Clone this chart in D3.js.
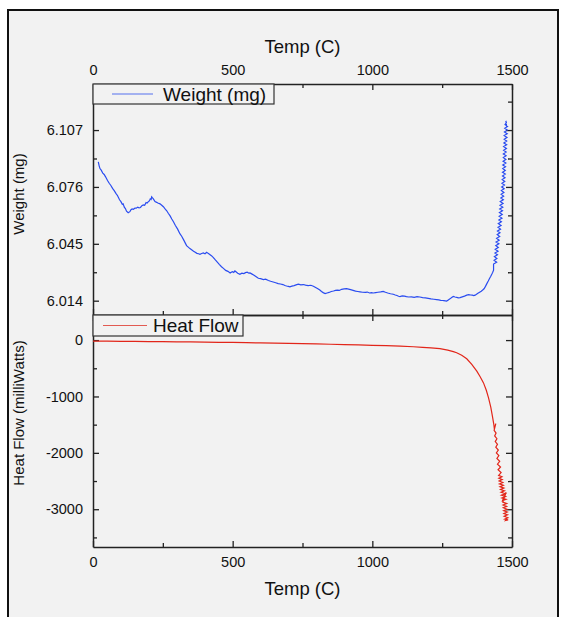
<!DOCTYPE html>
<html>
<head>
<meta charset="utf-8">
<script src="https://d3js.org/d3.v7.min.js"></script>
<style>
  body { margin: 0; background: white; }
  text { font-family: "Liberation Sans", Arial, sans-serif; fill: #111; }
</style>
</head>
<body>
<div id="container"></div>
<script>
let w = 565;
let h = 617;

// temperature axis ticks
let tempTicks = [0, 500, 1000, 1500];
let tempMinor = [250, 750, 1250];

// weight axis ticks
let weightTicks = [6.014, 6.045, 6.076, 6.107];
let weightMinor = [6.0295, 6.0605, 6.0915, 6.1225];

// heat flow axis ticks
let heatTicks = [0, -1000, -2000, -3000];
let heatMinor = [-500, -1500, -2500, -3500];

// weight curve, [temp, weight]
let weightData = [
  [19, 6.0897], [22, 6.0875], [25, 6.0860], [30, 6.0850], [35, 6.0835], [40, 6.0828], [45, 6.0815],
  [52, 6.0795], [58, 6.0780], [64, 6.0768], [70, 6.0752], [76, 6.0740], [82, 6.0725], [88, 6.0712],
  [95, 6.0690], [100, 6.0680], [105, 6.0665], [108, 6.0668], [112, 6.0650], [116, 6.0642],
  [120, 6.0628], [126, 6.0619], [132, 6.0625], [136, 6.0636], [140, 6.0640], [145, 6.0638],
  [150, 6.0645], [155, 6.0644], [160, 6.0650], [165, 6.0646], [170, 6.0648], [175, 6.0658],
  [180, 6.0662], [185, 6.0660], [190, 6.0675], [194, 6.0672], [198, 6.0680], [202, 6.0684],
  [205, 6.0695], [208, 6.0692], [210, 6.0706], [213, 6.0700], [216, 6.0695], [222, 6.0680],
  [228, 6.0676], [232, 6.0672], [240, 6.0668], [246, 6.0660], [252, 6.0652], [258, 6.0640],
  [264, 6.0630], [270, 6.0615], [276, 6.0602], [282, 6.0585], [288, 6.0570], [295, 6.0550],
  [303, 6.0530], [311, 6.0505], [318, 6.0490], [325, 6.0470], [330, 6.0455], [335, 6.0440],
  [341, 6.0432], [347, 6.0424], [353, 6.0418], [360, 6.0410], [366, 6.0404], [372, 6.0398],
  [378, 6.0396], [383, 6.0393], [389, 6.0397], [395, 6.0400], [401, 6.0396], [407, 6.0404],
  [412, 6.0398], [418, 6.0392], [425, 6.0384], [431, 6.0375], [438, 6.0362], [445, 6.0350],
  [452, 6.0338], [460, 6.0325], [467, 6.0316], [475, 6.0305], [483, 6.0300], [491, 6.0291],
  [496, 6.0296], [500, 6.0298], [504, 6.0294], [508, 6.0302], [513, 6.0296], [518, 6.0290],
  [526, 6.0284], [533, 6.0290], [540, 6.0288], [546, 6.0293], [552, 6.0295], [558, 6.0290],
  [562, 6.0291], [568, 6.0286], [575, 6.0280], [583, 6.0272], [592, 6.0262], [600, 6.0260],
  [610, 6.0255], [618, 6.0257], [628, 6.0250], [636, 6.0246], [645, 6.0242], [654, 6.0238],
  [663, 6.0233], [671, 6.0231], [680, 6.0228], [687, 6.0223], [693, 6.0220], [699, 6.0218],
  [705, 6.0215], [712, 6.0219], [720, 6.0222], [727, 6.0226], [735, 6.0230], [744, 6.0226],
  [753, 6.0228], [761, 6.0225], [770, 6.0222], [780, 6.0224], [789, 6.0219], [797, 6.0212],
  [805, 6.0205], [812, 6.0198], [818, 6.0190], [824, 6.0184], [831, 6.0179], [838, 6.0182],
  [845, 6.0185], [853, 6.0190], [861, 6.0193], [868, 6.0196], [875, 6.0198], [882, 6.0196],
  [890, 6.0202], [899, 6.0204], [908, 6.0206], [915, 6.0203], [922, 6.0200], [931, 6.0196],
  [940, 6.0192], [948, 6.0190], [956, 6.0188], [965, 6.0186], [975, 6.0185], [982, 6.0187],
  [990, 6.0182], [997, 6.0184], [1003, 6.0182], [1012, 6.0184], [1020, 6.0186], [1030, 6.0188],
  [1039, 6.0191], [1047, 6.0186], [1055, 6.0182], [1065, 6.0178], [1075, 6.0175], [1082, 6.0171],
  [1088, 6.0168], [1094, 6.0164], [1099, 6.0162], [1107, 6.0166], [1115, 6.0165], [1122, 6.0162],
  [1130, 6.0160], [1140, 6.0161], [1150, 6.0158], [1160, 6.0162], [1170, 6.0160], [1180, 6.0157],
  [1190, 6.0155], [1200, 6.0153], [1210, 6.0150], [1220, 6.0148], [1230, 6.0146], [1238, 6.0144],
  [1245, 6.0142], [1251, 6.0141], [1256, 6.0140], [1261, 6.0139], [1266, 6.0138], [1272, 6.0144],
  [1278, 6.0150], [1284, 6.0157], [1290, 6.0163], [1296, 6.0160], [1302, 6.0158], [1308, 6.0155],
  [1314, 6.0157], [1322, 6.0161], [1330, 6.0165], [1338, 6.0170], [1345, 6.0173], [1352, 6.0171],
  [1358, 6.0170], [1363, 6.0168], [1368, 6.0170], [1373, 6.0175], [1378, 6.0180], [1384, 6.0186],
  [1390, 6.0192], [1395, 6.0198], [1400, 6.0205], [1405, 6.0218], [1410, 6.0233], [1415, 6.0247],
  [1420, 6.0262], [1424, 6.0273], [1428, 6.0285], [1431, 6.0295], [1434, 6.0306],
  // noisy part at the end
  [1434, 6.034], [1445, 6.035], [1436, 6.036], [1446, 6.037], [1437, 6.038], [1448, 6.039],
  [1439, 6.040], [1450, 6.041], [1440, 6.042], [1451, 6.043], [1442, 6.044], [1453, 6.045],
  [1443, 6.046], [1454, 6.047], [1445, 6.048], [1456, 6.049], [1447, 6.050], [1457, 6.051],
  [1448, 6.052], [1459, 6.053], [1450, 6.054], [1461, 6.055], [1451, 6.056], [1462, 6.057],
  [1453, 6.058], [1464, 6.059], [1454, 6.060], [1465, 6.061], [1455, 6.062], [1466, 6.063],
  [1456, 6.064], [1467, 6.065], [1457, 6.066], [1468, 6.067], [1458, 6.068], [1469, 6.069],
  [1460, 6.070], [1470, 6.071], [1461, 6.072], [1471, 6.073], [1462, 6.074], [1472, 6.075],
  [1463, 6.076], [1473, 6.077], [1464, 6.078], [1474, 6.079], [1465, 6.080], [1475, 6.081],
  [1466, 6.082], [1476, 6.083], [1466, 6.084], [1476, 6.085], [1467, 6.086], [1477, 6.087],
  [1467, 6.088], [1478, 6.089], [1468, 6.090], [1478, 6.091], [1469, 6.092], [1479, 6.093],
  [1469, 6.094], [1479, 6.095], [1470, 6.096], [1480, 6.097], [1470, 6.098], [1481, 6.099],
  [1471, 6.100], [1481, 6.101], [1472, 6.102], [1482, 6.103], [1472, 6.104], [1483, 6.105],
  [1473, 6.106], [1483, 6.107], [1474, 6.108], [1484, 6.109], [1475, 6.110], [1480, 6.111],
  [1478, 6.112], [1481, 6.109]
];

// heat flow curve, [temp, milliWatts]
let heatData = [
  [0, -18], [50, -20], [100, -22], [150, -24], [200, -26], [250, -28], [300, -30], [350, -33],
  [400, -36], [450, -39], [500, -42], [550, -46], [600, -50], [650, -54], [700, -58], [750, -63],
  [800, -68], [850, -74], [900, -80], [950, -86], [1000, -92], [1050, -99], [1100, -107],
  [1147, -118], [1180, -128], [1210, -138], [1242, -153], [1270, -178], [1290, -205], [1302, -225],
  [1320, -270], [1338, -331], [1356, -430], [1374, -551], [1386, -650], [1398, -759], [1408, -890],
  [1416, -1025], [1424, -1190], [1430, -1352], [1435, -1500], [1437, -1580],
  // noisy part at the end
  [1442, -1480], [1436, -1600], [1443, -1650], [1438, -1700], [1446, -1750], [1440, -1800],
  [1448, -1850], [1442, -1900], [1451, -1950], [1444, -2000], [1453, -2050], [1446, -2100],
  [1456, -2150], [1448, -2200], [1459, -2250], [1450, -2300], [1461, -2350], [1452, -2400],
  [1464, -2425], [1453, -2450], [1465, -2475], [1454, -2500], [1467, -2525], [1455, -2550],
  [1469, -2575], [1457, -2600], [1471, -2625], [1459, -2650], [1473, -2675], [1461, -2700],
  [1476, -2725], [1462, -2750], [1477, -2775], [1464, -2800], [1479, -2825], [1466, -2850],
  [1479, -2700], [1467, -2875], [1481, -2900], [1468, -2925], [1481, -2950], [1469, -2975],
  [1482, -3000], [1470, -3025], [1483, -3050], [1471, -3075], [1484, -3100], [1472, -3125],
  [1485, -3150], [1474, -3175], [1486, -3190], [1477, -3200], [1483, -3170]
];

let viz = d3.select("#container")
  .append("svg")
    .attr("width", w)
    .attr("height", h)
    .style("background-color", "white")
;

// outer frame (bottom runs off the picture)
viz.append("rect")
  .attr("x", 8).attr("y", 10)
  .attr("width", 550).attr("height", 640)
  .attr("fill", "#f2f2f2")
  .attr("stroke", "#111")
  .attr("stroke-width", 2);

let left = 93, right = 512;
let top1 = 84, mid = 315, bottom2 = 547;

let xScale = d3.scaleLinear().domain([0, 1500]).range([left, right]);
let yWeight = d3.scaleLinear().domain([6.0062, 6.1321]).range([mid, top1]);
let yHeat = d3.scaleLinear().domain([-3670, 445]).range([bottom2, mid]);

// helper that draws an axis with inward ticks plus its minor ticks
function drawAxis(axisFn, scale, major, minor, tx, ty, fmt, pad){
  let g = viz.append("g").attr("transform", "translate(" + tx + "," + ty + ")");
  let ax = axisFn(scale).tickValues(major).tickSizeInner(-6).tickSizeOuter(0).tickPadding(pad || 9);
  ax.tickFormat(fmt ? fmt : "");
  g.call(ax);
  let gm = viz.append("g").attr("transform", "translate(" + tx + "," + ty + ")");
  gm.call(axisFn(scale).tickValues(minor).tickSizeInner(-4).tickSizeOuter(0).tickFormat(""));
  gm.select(".domain").remove();
  [g, gm].forEach(function(s){
    s.selectAll("line").attr("stroke", "#222").attr("stroke-width", 1.3);
    s.selectAll(".domain").attr("stroke", "#222").attr("stroke-width", 1.5);
    s.selectAll("text")
      .attr("font-size", null).attr("font-family", null)
      .style("font-size", "14.5px")
      .style("font-family", "'Liberation Sans', Arial, sans-serif")
      .attr("fill", "#111");
  });
  return g;
}

let tempFmt = function(d){ return String(d); };
let weightFmt = d3.format(".3f");
let heatFmt = function(d){ return String(d); };

// upper panel: weight
drawAxis(d3.axisTop, xScale, tempTicks, tempMinor, 0, top1, tempFmt, 9);
drawAxis(d3.axisBottom, xScale, tempTicks, tempMinor, 0, mid, null);
drawAxis(d3.axisLeft, yWeight, weightTicks, weightMinor, left, 0, weightFmt, 10);
drawAxis(d3.axisRight, yWeight, weightTicks, weightMinor, right, 0, null);

// lower panel: heat flow
drawAxis(d3.axisTop, xScale, tempTicks, tempMinor, 0, mid, null);
drawAxis(d3.axisBottom, xScale, tempTicks, tempMinor, 0, bottom2, tempFmt, 10);
drawAxis(d3.axisLeft, yHeat, heatTicks, heatMinor, left, 0, heatFmt, 10);
drawAxis(d3.axisRight, yHeat, heatTicks, heatMinor, right, 0, null);

// the curves
let weightLine = d3.line()
  .x(function(d){ return xScale(d[0]); })
  .y(function(d){ return yWeight(d[1]); });
let heatLine = d3.line()
  .x(function(d){ return xScale(d[0]); })
  .y(function(d){ return yHeat(d[1]); });

viz.append("path")
  .datum(weightData)
  .attr("d", weightLine)
  .attr("fill", "none")
  .attr("stroke", "#2a4cf0")
  .attr("stroke-width", 1.2);

viz.append("path")
  .datum(heatData)
  .attr("d", heatLine)
  .attr("fill", "none")
  .attr("stroke", "#e2261a")
  .attr("stroke-width", 1.2);

// legends
function legend(x, y, wd, ht, color, label, lx1, lx2, tx){
  viz.append("rect")
    .attr("x", x).attr("y", y).attr("width", wd).attr("height", ht)
    .attr("fill", "#f2f2f2").attr("stroke", "#333").attr("stroke-width", 1.2);
  viz.append("line")
    .attr("x1", lx1).attr("x2", lx2)
    .attr("y1", y + ht / 2).attr("y2", y + ht / 2)
    .attr("stroke", color).attr("stroke-width", 1);
  viz.append("text")
    .attr("x", tx).attr("y", y + ht / 2 + 6.5)
    .style("font-size", "19px")
    .text(label);
}
legend(left, top1, 181, 20, "#5470ee", "Weight (mg)", 112, 153, 163);
legend(left, mid, 150, 21, "#e25a52", "Heat Flow", 103, 147, 153);

// axis titles
viz.append("text")
  .attr("x", (left + right) / 2).attr("y", 53)
  .attr("text-anchor", "middle")
  .style("font-size", "18.5px")
  .text("Temp (C)");
viz.append("text")
  .attr("x", (left + right) / 2).attr("y", 595)
  .attr("text-anchor", "middle")
  .style("font-size", "18.5px")
  .text("Temp (C)");
viz.append("text")
  .attr("transform", "translate(24,194) rotate(-90)")
  .attr("text-anchor", "middle")
  .style("font-size", "15px")
  .text("Weight (mg)");
viz.append("text")
  .attr("transform", "translate(24,413) rotate(-90)")
  .attr("text-anchor", "middle")
  .style("font-size", "15px")
  .text("Heat Flow (milliWatts)");
</script>
</body>
</html>
